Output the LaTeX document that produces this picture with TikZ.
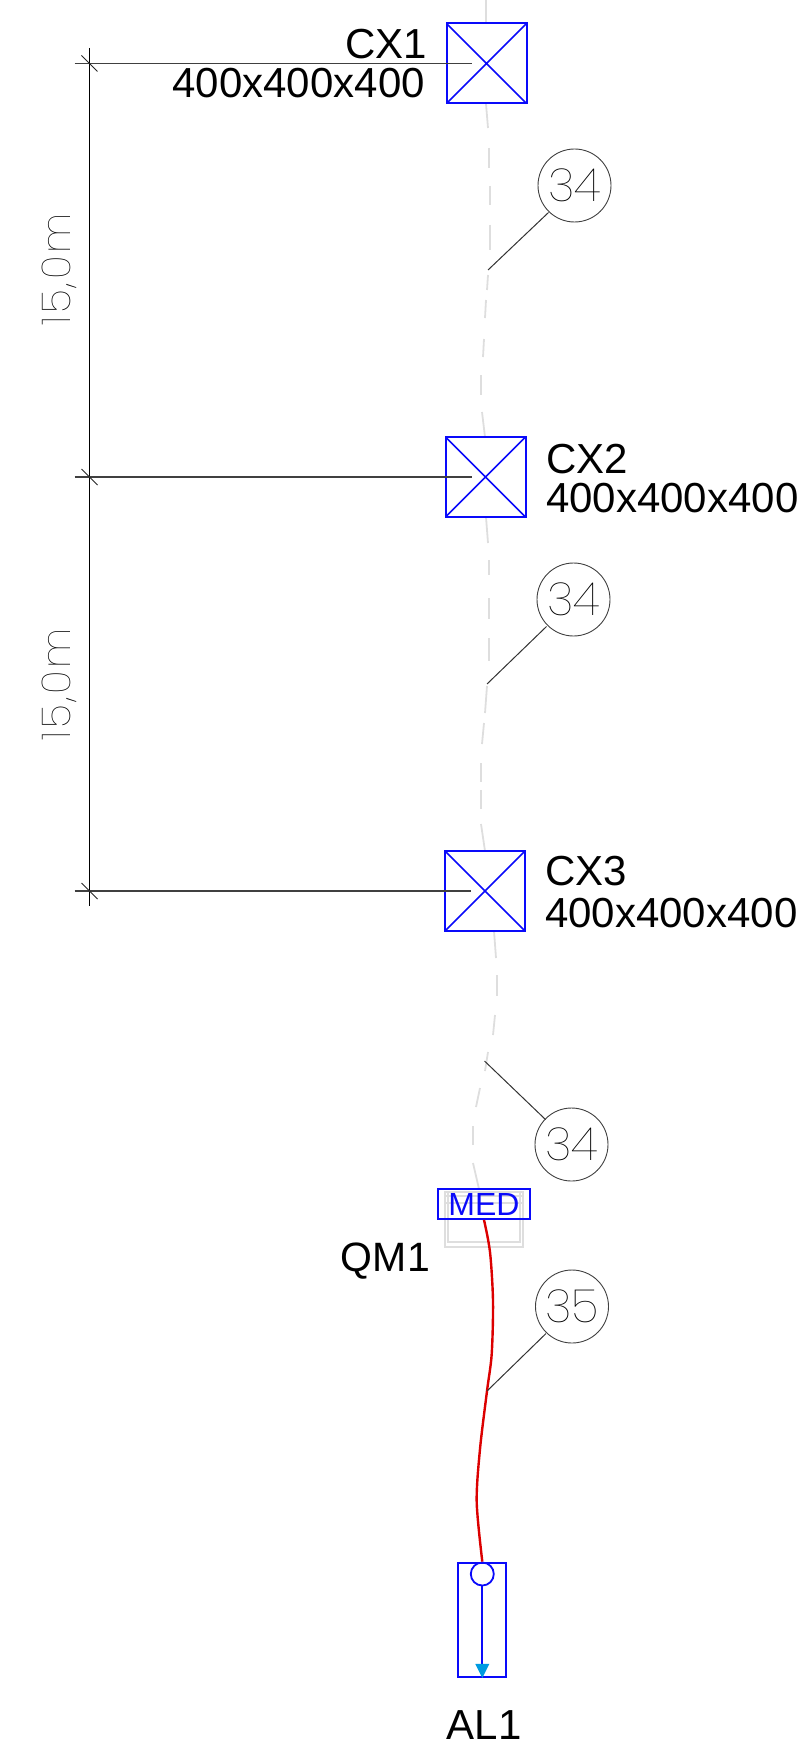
\documentclass[tikz,border=0pt]{standalone}
\usepackage{fontspec}
\setmainfont{Liberation Sans}
\newfontfamily\finafont{Poppins Thin}
\newfontfamily\cotafont[LetterSpace=7]{Poppins Thin}
\usepackage{xcolor}
\usepackage{tikz}
\usetikzlibrary{positioning,calc}
\definecolor{azulcad}{RGB}{10,10,250}
\definecolor{vermcad}{RGB}{220,0,0}
\definecolor{cinzacad}{RGB}{222,222,222}
\definecolor{cianocad}{RGB}{0,155,225}
\tikzset{
  caixa/.style={draw=azulcad,line width=2pt,minimum width=80pt,minimum height=80pt,inner sep=0,
    path picture={\draw[azulcad,line width=1.6pt] (path picture bounding box.north west)--(path picture bounding box.south east)
      (path picture bounding box.north east)--(path picture bounding box.south west);}},
  rotulo/.style={inner sep=0,font=\fontsize{42}{42}\selectfont},
  cota/.style={inner sep=0,text=black,font=\cotafont\fontsize{40}{40}\selectfont,rotate=90},
  bola/.style={circle,draw=black!75,line width=0.9pt,minimum size=73pt,inner sep=0,text=black,font=\finafont\fontsize{46}{46}\selectfont},
  guia/.style={draw=black!80,line width=1pt},
  fio/.style={cinzacad,line width=1.8pt},
  linha/.style={black!75,line width=1.8pt},
}
\begin{document}
\begin{tikzpicture}[x=1pt,y=-1pt]
\useasboundingbox (0,0) rectangle (802,1744);

%dashed conduit
\foreach \xa/\ya/\xb/\yb in {486/0/486/23, 486/104/488/128, 489/148/489/168, 490/186/490/205, 490/225/490/250,
  488/275/487/290, 486/300/485/318, 484/339/483/357, 481/375/481/395, 482/412/485/437,
  486/517/488/543, 489/560/489/575, 489/598/489/619, 489/638/489/661, 487/686/485/713, 484/723/482/744,
  481/763/481/782, 481/790/481/809, 481/824/485/851,
  494/931/496/958, 497/975/497/996, 495/1015/493/1035, 488/1052/485/1071, 480/1088/476/1107,
  473/1126/473/1145, 473/1163/479/1189}
  \draw[fio] (\xa,\ya)--(\xb,\yb);

%boxes
\node[caixa] (cx1) at (486.5,63.5) {};
\node[caixa] (cx2) at (485.5,477) {};
\node[caixa] (cx3) at (485,891) {};

%panel
\draw[cinzacad,line width=1.4pt] (445,1192) rectangle (523,1247);
\draw[cinzacad,line width=1.4pt] (448,1192)--(448,1242)--(520,1242)--(520,1192);
\draw[cinzacad,line width=1.4pt] (445,1196)--(523,1196) (445,1203)--(523,1203);
\node[draw=azulcad,line width=1.8pt,text=azulcad,minimum width=92pt,minimum height=30pt,inner sep=0,font=\fontsize{32}{32}\selectfont] (med) at (484,1204) {MED};

%luminaire
\node[draw=azulcad,line width=1.8pt,minimum width=48pt,minimum height=114pt,inner sep=0] (al1) at (482,1620) {};
\node[circle,draw=azulcad,line width=1.8pt,minimum size=23pt,inner sep=0] (lamp) at (482.3,1574) {};
\draw[azulcad,line width=1.8pt] (lamp.south)--(lamp.south |- al1.south);
\coordinate (seta) at (lamp.south |- al1.south);
\fill[cianocad] (seta) ++(-7,-14)--++(14,0)--(seta)--cycle;

%red line
\draw[vermcad,line width=2.4pt] plot[smooth] coordinates {(med.south) (490,1252) (493,1301) (491.7,1354) (487,1391)
  (480,1449) (476.7,1502) (lamp.north)};

%dimension
\coordinate (d0) at (89.5,48);
\coordinate (d1) at (89.5,63.5);
\coordinate (d2) at (89.5,477);
\coordinate (d3) at (89.5,891);
\coordinate (d4) at (89.5,906);
\draw[black,line width=0.9pt] (d0)--(d4);
\draw[linha] (74.5,63.5)--(472,63.5);
\draw[linha] (74.5,477)--(472,477);
\draw[linha] (74.5,891)--(471,891);
\foreach \p in {d1,d2,d3}
  \draw[black!85,line width=1pt] ($(\p)+(-8,-8)$)--($(\p)+(8,8)$);
\node[cota] (cota1) at (59.5,269.5) {15,0m};
\node[cota] (cota2) at (59.5,684) {15,0m};

%tags
\node[bola] (b1) at (574.5,185.5) {34};
\node[bola] (b2) at (573.5,599.5) {34};
\node[bola] (b3) at (571.5,1144.5) {34};
\node[bola] (b4) at (572,1306.5) {35};
\coordinate (g1) at (488,270);
\coordinate (g2) at (487,684);
\coordinate (g3) at (484.5,1061);
\coordinate (g4) at (487,1391);
\draw[guia] (b1)+(-26,27) -- (g1);
\draw[guia] (b2)+(-27,27) -- (g2);
\draw[guia] (b3)+(-26,-25) -- (g3);
\draw[guia] (b4)+(-26,27) -- (g4);

%labels
\node[rotulo,anchor=base east] (n1) at (427,59) {CX1};
\node[rotulo,anchor=base east] (t1) at (425,98) {400x400x400};
\node[rotulo,anchor=base west] (n2) at (546,473) {CX2};
\node[rotulo,anchor=base west] (t2) at (546,512) {400x400x400};
\node[rotulo,anchor=base west] (n3) at (545,885) {CX3};
\node[rotulo,anchor=base west] (t3) at (545,927) {400x400x400};
\node[rotulo,anchor=base east,font=\fontsize{41}{41}\selectfont] (qm) at (430,1271) {QM1};
\node[rotulo,anchor=base] (al) at (484,1739) {AL1};
\end{tikzpicture}
\end{document}
